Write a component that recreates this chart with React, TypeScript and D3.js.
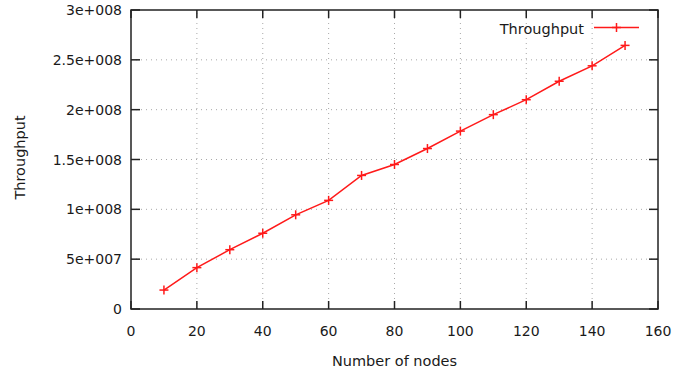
import * as d3 from 'd3'

const W = 691
const H = 375
const MARGIN = { top: 10, right: 33, bottom: 66, left: 131 }

// number of nodes vs throughput
const nodes = [10, 20, 30, 40, 50, 60, 70, 80, 90, 100, 110, 120, 130, 140, 150]
const throughput = [
  1.9e7, 4.15e7, 5.95e7, 7.6e7, 9.45e7, 1.09e8, 1.34e8, 1.45e8,
  1.61e8, 1.785e8, 1.95e8, 2.1e8, 2.285e8, 2.44e8, 2.645e8,
]
const xTicks = [0, 20, 40, 60, 80, 100, 120, 140, 160]
const yTicks = [0, 5e7, 1e8, 1.5e8, 2e8, 2.5e8, 3e8]

const FONT = '"DejaVu Sans", Verdana, sans-serif'
const RED = '#ff1a1a'

// gnuplot-ish %g with 3 digit exponent
const fmtY = (v: number) => {
  if (v === 0) return '0'
  const e = Math.floor(Math.log10(v))
  const m = +(v / Math.pow(10, e)).toFixed(3)
  return `${m}e+${String(e).padStart(3, '0')}`
}

const Plus = ({ x, y, s = 4.5 }: { x: number; y: number; s?: number }) => (
  <g stroke={RED} strokeWidth={1.5}>
    <line x1={x - s} x2={x + s} y1={y} y2={y} />
    <line x1={x} x2={x} y1={y - s} y2={y + s} />
  </g>
)

export default function App() {
  const innerW = W - MARGIN.left - MARGIN.right
  const innerH = H - MARGIN.top - MARGIN.bottom

  const x = d3.scaleLinear().domain([0, 160]).range([MARGIN.left, MARGIN.left + innerW])
  const y = d3.scaleLinear().domain([0, 3e8]).range([MARGIN.top + innerH, MARGIN.top])

  const pts = nodes.map((n, i) => [n, throughput[i]] as [number, number])
  const line = d3.line<[number, number]>()
    .x(d => x(d[0]))
    .y(d => y(d[1]))

  const x0 = MARGIN.left
  const x1 = MARGIN.left + innerW
  const y0 = MARGIN.top + innerH
  const y1 = MARGIN.top

  return (
    <svg width={W} height={H} style={{ position: 'absolute', left: 0, top: 0, background: '#fff' }}
      fontFamily={FONT}>
      {/* grid */}
      <g stroke="#a8a8a8" strokeWidth={1} strokeDasharray="1,4">
        {xTicks.filter(t => t > 0 && t < 160).map(t => (
          <line key={t} x1={x(t)} x2={x(t)} y1={y0} y2={y1} />
        ))}
        {yTicks.filter(t => t > 0 && t < 3e8).map(t => (
          <line key={t} x1={x0} x2={x1} y1={y(t)} y2={y(t)} />
        ))}
      </g>

      {/* ticks */}
      <g stroke="#222" strokeWidth={1.5}>
        {xTicks.map(t => (
          <g key={t}>
            <line x1={x(t)} x2={x(t)} y1={y0} y2={y0 - 8} />
            <line x1={x(t)} x2={x(t)} y1={y1} y2={y1 + 8} />
          </g>
        ))}
        {yTicks.map(t => (
          <g key={t}>
            <line x1={x0} x2={x0 + 9} y1={y(t)} y2={y(t)} />
            <line x1={x1} x2={x1 - 9} y1={y(t)} y2={y(t)} />
          </g>
        ))}
      </g>

      {/* frame */}
      <rect x={x0} y={y1} width={innerW} height={innerH} fill="none" stroke="#222" strokeWidth={1.5} />

      {/* tick labels */}
      <g fontSize={14} fill="#1a1a1a">
        {xTicks.map(t => (
          <text key={t} x={x(t)} y={y0 + 27} textAnchor="middle">{t}</text>
        ))}
        {yTicks.map(t => (
          <text key={t} x={x0 - 9} y={y(t) + 5} textAnchor="end">{fmtY(t)}</text>
        ))}
      </g>

      {/* axis titles */}
      <text x={(x0 + x1) / 2} y={366} textAnchor="middle" fontSize={14.5} fill="#1a1a1a">
        Number of nodes
      </text>
      <text transform="translate(25, 157.5) rotate(-90)" textAnchor="middle"
        fontSize={14.5} fill="#1a1a1a">
        Throughput
      </text>

      {/* series */}
      <path d={line(pts) ?? ''} fill="none" stroke={RED} strokeWidth={1.5} />
      {pts.map(d => (
        <Plus key={d[0]} x={x(d[0])} y={y(d[1])} />
      ))}

      {/* legend */}
      <text x={584} y={34} textAnchor="end" fontSize={14.5} fill="#1a1a1a">Throughput</text>
      <line x1={594} x2={639} y1={27.5} y2={27.5} stroke={RED} strokeWidth={1.5} />
      <Plus x={616.5} y={27.5} />
    </svg>
  )
}
